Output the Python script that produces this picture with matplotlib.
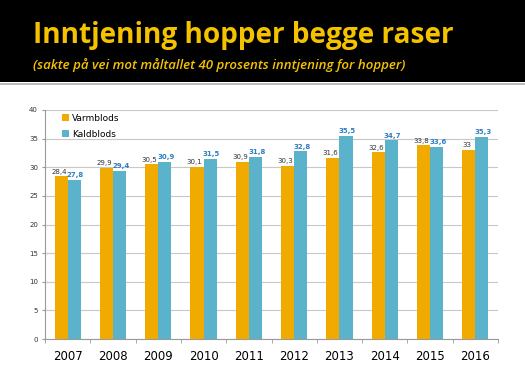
import matplotlib
matplotlib.use("Agg")
import matplotlib.pyplot as plt
import numpy as np

years = ["2007", "2008", "2009", "2010", "2011", "2012", "2013", "2014", "2015", "2016"]
varmblods = [28.4, 29.9, 30.5, 30.1, 30.9, 30.3, 31.6, 32.6, 33.8, 33.0]
kaldblods = [27.8, 29.4, 30.9, 31.5, 31.8, 32.8, 35.5, 34.7, 33.6, 35.3]
varm_labels = ["28,4", "29,9", "30,5", "30,1", "30,9", "30,3", "31,6", "32,6", "33,8", "33"]
kald_labels = ["27,8", "29,4", "30,9", "31,5", "31,8", "32,8", "35,5", "34,7", "33,6", "35,3"]
yticks = [0, 5, 10, 15, 20, 25, 30, 35, 40]

orange = "#f0aa00"
teal = "#5ab3cb"

fig = plt.figure(figsize=(5.25, 3.8), dpi=100)
fig.patch.set_facecolor("white")

# black header band
hdr = fig.add_axes([0, 1 - 82 / 380, 1, 82 / 380])
hdr.set_facecolor("black")
hdr.set_xticks([]); hdr.set_yticks([])
for s in hdr.spines.values():
    s.set_visible(False)
fig.add_artist(plt.Line2D([0, 1], [1 - 84 / 380, 1 - 84 / 380], color="#b0b0b0", lw=1.2))

fig.text(33 / 525, 1 - 35 / 380, "Inntjening hopper begge raser", color="#f5c200",
         fontsize=20.2, fontweight="bold", family="Open Sans", va="center", ha="left")
fig.text(33 / 525, 1 - 65 / 380, "(sakte på vei mot måltallet 40 prosents inntjening for hopper)",
         color="#f5c200", fontsize=9.5, style="italic", fontweight="semibold", family="Open Sans",
         va="center", ha="left")

ax = fig.add_axes([45 / 525, 1 - 339 / 380, (498 - 45) / 525, (339 - 110) / 380])
x = np.arange(len(years))
w = 0.29
ax.bar(x - w / 2, varmblods, w, color=orange, label="Varmblods", zorder=3)
ax.bar(x + w / 2, kaldblods, w, color=teal, label="Kaldblods", zorder=3)

for i in range(len(years)):
    ax.text(x[i] - w / 2 - 0.05, varmblods[i] + 0.3, varm_labels[i], fontsize=5, color="#333333",
            ha="center", va="bottom", zorder=4)
    ax.text(x[i] + w / 2 + 0.03, kaldblods[i] + 0.3, kald_labels[i], fontsize=5, color="#2f7fc0",
            ha="center", va="bottom", fontweight="bold", zorder=4)

ax.set_xlim(-0.5, len(years) - 0.5)
ax.set_ylim(0, 40)
ax.set_yticks(yticks)
ax.set_yticklabels([str(v) for v in yticks], fontsize=5, color="#333333")
ax.set_xticks(x)
ax.set_xticklabels(years, fontsize=8.5, color="black")
ax.set_xticks(np.arange(len(years) + 1) - 0.5, minor=True)
ax.tick_params(axis="x", which="major", length=0, pad=8)
ax.tick_params(axis="x", which="minor", length=3, color="#999999")
ax.tick_params(axis="y", length=2, color="#999999", pad=3)
ax.grid(axis="y", color="#c8c8c8", lw=0.8, zorder=0)
for s in ["top", "right"]:
    ax.spines[s].set_visible(False)
ax.spines["left"].set_color("#999999")
ax.spines["bottom"].set_color("#999999")

ax.legend(loc="upper left", bbox_to_anchor=(0.02, 1.02), frameon=False, fontsize=6.5,
          handlelength=0.7, handleheight=0.7, labelspacing=0.8, handletextpad=0.4,
          facecolor="white")

fig.savefig("out.png", dpi=100, facecolor="white")
